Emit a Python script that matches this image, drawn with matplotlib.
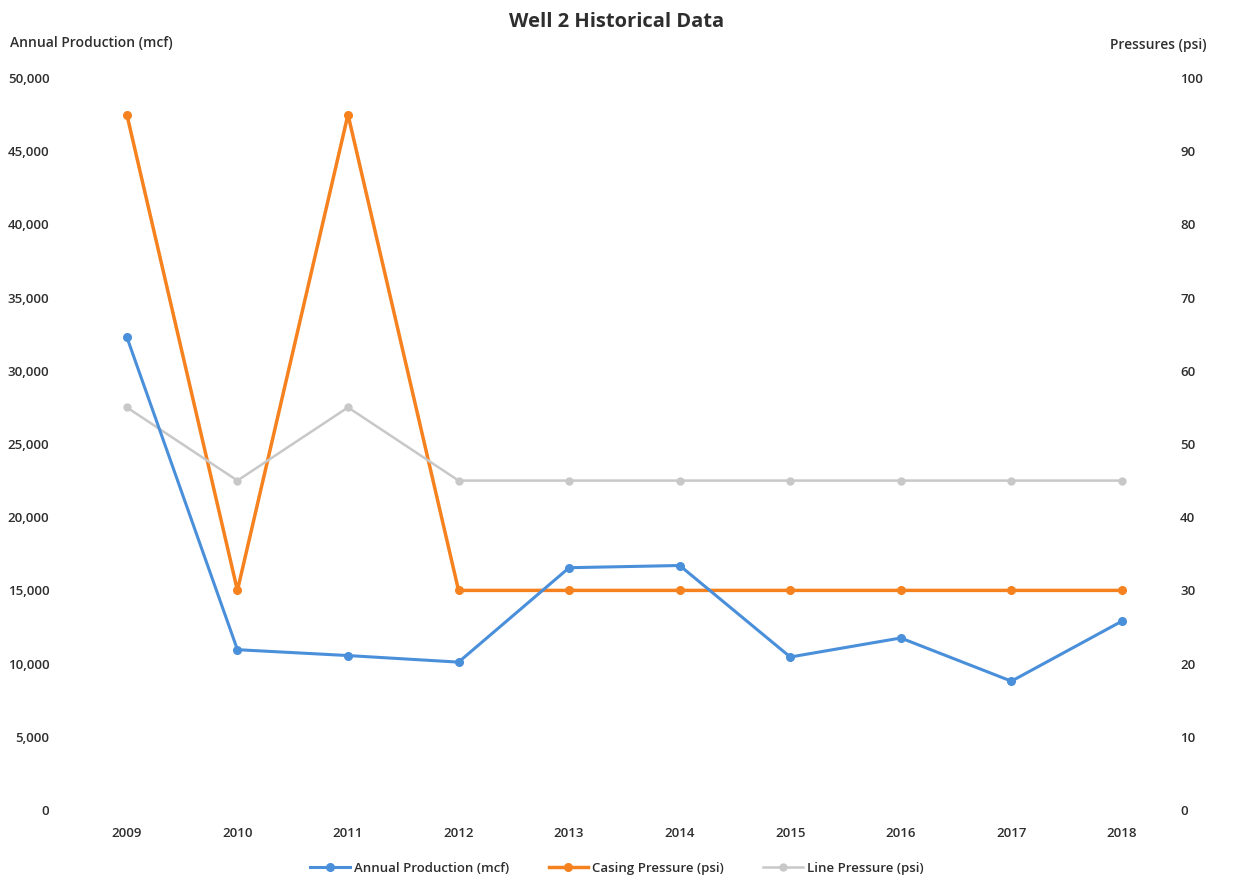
import numpy as np
import matplotlib.pyplot as plt

plt.rcParams['font.family'] = ['Open Sans', 'DejaVu Sans']

years = ['2009', '2010', '2011', '2012', '2013', '2014', '2015', '2016', '2017', '2018']
production = [32300, 10950, 10550, 10100, 16550, 16700, 10450, 11750, 8800, 12900]
casing = [95, 30, 95, 30, 30, 30, 30, 30, 30, 30]
line_p = [55, 45, 55, 45, 45, 45, 45, 45, 45, 45]

blue = '#4A8FDA'
orange = '#F5821F'
gray = '#C8C8C8'
text_col = '#2E2E2E'

fig = plt.figure(figsize=(12.34, 8.84), dpi=100)
ax = fig.add_axes([0.058, 0.0837, 0.896, 0.8281])
ax2 = ax.twinx()

x = np.arange(len(years))
l1, = ax.plot(x, production, color=blue, lw=2.2, marker='o', ms=5.5, label='Annual Production (mcf)')
l2, = ax2.plot(x, casing, color=orange, lw=2.5, marker='o', ms=5.5, label='Casing Pressure (psi)')
l3, = ax2.plot(x, line_p, color=gray, lw=1.8, marker='o', ms=5, label='Line Pressure (psi)')
ax.set_zorder(ax2.get_zorder() + 1)
ax.patch.set_visible(False)

ax.set_xlim(-0.5, len(years) - 0.5)
ax.set_ylim(0, 50000)
ax2.set_ylim(0, 100)
ax.set_yticks(np.arange(0, 50001, 5000))
ax.set_yticklabels([f'{v:,}' for v in range(0, 50001, 5000)])
ax2.set_yticks(np.arange(0, 101, 10))
ax.set_xticks(x)
ax.set_xticklabels(years)

for a in (ax, ax2):
    for s in a.spines.values():
        s.set_visible(False)
    a.tick_params(length=0, labelsize=9.5, colors=text_col)
ax.tick_params(axis='y', pad=16)
ax2.tick_params(axis='y', pad=2)
ax.tick_params(axis='x', pad=12)
for lab in ax.get_xticklabels() + ax.get_yticklabels() + ax2.get_yticklabels():
    lab.set_fontweight('semibold')

fig.text(0.5, 0.975, 'Well 2 Historical Data', ha='center', va='center',
         fontsize=14.5, fontweight='bold', color=text_col)
fig.text(0.008, 0.951, 'Annual Production (mcf)', ha='left', va='center',
         fontsize=10, fontweight='semibold', color=text_col)
fig.text(0.978, 0.949, 'Pressures (psi)', ha='right', va='center',
         fontsize=10, fontweight='semibold', color=text_col)

leg = fig.legend(handles=[l1, l2, l3], loc='center', bbox_to_anchor=(0.5, 0.018), ncol=3,
                 frameon=False, fontsize=9.5, handlelength=3, columnspacing=3,
                 handletextpad=0.3, labelcolor=text_col)
for t in leg.get_texts():
    t.set_fontweight('semibold')

plt.savefig('out.png', dpi=100)
